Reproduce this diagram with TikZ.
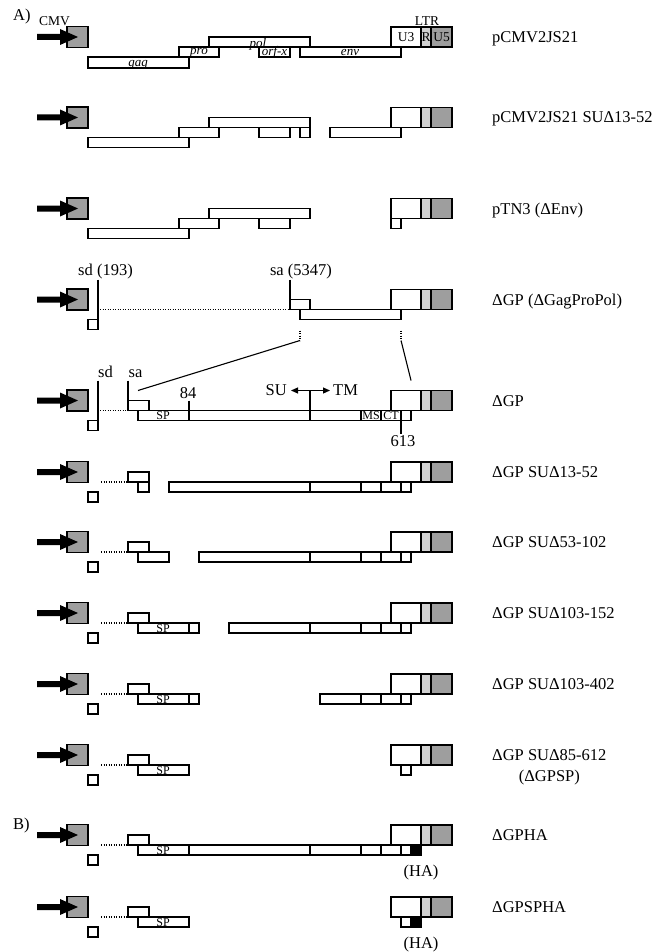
\documentclass[tikz,border=0pt]{standalone}
\usepackage{xcolor}
\usepackage{fontspec}
\setmainfont{Liberation Serif}
\usetikzlibrary{arrows.meta}

\definecolor{cmvgray}{gray}{0.62}
\definecolor{rgray}{gray}{0.82}

\tikzset{
  seg/.style={draw=black, fill=white, line width=1.1pt},
  cmvseg/.style={seg, fill=cmvgray},
  rseg/.style={seg, fill=rgray},
  haseg/.style={seg, fill=black},
  txt/.style={inner sep=0pt, font=\fontsize{16.5}{19}\selectfont},
  small/.style={inner sep=0pt, font=\fontsize{13.5}{16}\selectfont},
  gene/.style={inner sep=0pt, anchor=base, font=\fontsize{13}{15}\selectfont\itshape},
  tiny/.style={inner sep=0pt, font=\fontsize{12}{14}\selectfont},
  dots/.style={line width=1.3pt, dash pattern=on 1.3pt off 1.2pt},
  tick/.style={line width=1.1pt},
  tip/.style={{Triangle[length=7pt,width=6pt]}-{Triangle[length=7pt,width=6pt]}},
}

\begin{document}
\begin{tikzpicture}[x=1pt, y=-1pt]
    \useasboundingbox (0,0) rectangle (665,952);

    % CMV 启动子和 LTR (每一行都有)
    \foreach \yy in {37,117.5,208.5,299.5,400.5,472,542,613,684,755,835,907}{
        \draw[cmvseg] (67,\yy-10.5) rectangle (88,\yy+10.5);
        \fill (37,\yy-3) -- (60,\yy-3) -- (60,\yy-8) -- (78,\yy) -- (60,\yy+8) -- (60,\yy+3) -- (37,\yy+3) -- cycle;
        \draw[seg] (391,\yy-10) rectangle (421,\yy+10);
        \draw[rseg] (421,\yy-10) rectangle (431,\yy+10);
        \draw[cmvseg] (431,\yy-10) rectangle (452,\yy+10);
    }

    % 右侧名称
    \node[txt, anchor=base west] (n1) at (492,42.5) {pCMV2JS21};
    \node[txt, anchor=base west] (n2) at (492,123) {pCMV2JS21 SUΔ13-52};
    \node[txt, anchor=base west] (n3) at (492,214) {pTN3 (ΔEnv)};
    \node[txt, anchor=base west] (n4) at (492,305) {ΔGP (ΔGagProPol)};
    \node[txt, anchor=base west] (n5) at (492,406) {ΔGP};
    \node[txt, anchor=base west] (n6) at (492,477.5) {ΔGP SUΔ13-52};
    \node[txt, anchor=base west] (n7) at (492,547.5) {ΔGP SUΔ53-102};
    \node[txt, anchor=base west] (n8) at (492,618.5) {ΔGP SUΔ103-152};
    \node[txt, anchor=base west] (n9) at (492,689.5) {ΔGP SUΔ103-402};
    \node[txt, anchor=base west] (n10) at (492,760.5) {ΔGP SUΔ85-612};
    \node[txt, anchor=base] (n10b) at ([yshift=-21pt]n10.base) {(ΔGPSP)};
    \node[txt, anchor=base west] (n11) at (492,840.5) {ΔGPHA};
    \node[txt, anchor=base west] (n12) at (492,912.5) {ΔGPSPHA};

    \node[txt, anchor=base west] (partA) at (13,21) {A)};
    \node[txt, anchor=base west] (partB) at (13,829) {B)};

    % pCMV2JS21
    \begin{scope}[shift={(0,37)}]
        \draw[seg] (209,0) rectangle (310,10);
        \draw[seg] (179,10) rectangle (219,20);
        \draw[seg] (259,10) rectangle (290,20);
        \draw[seg] (300,10) rectangle (401,20);
        \draw[seg] (88,20) rectangle (189,31);
        \node[gene] (gag) at (138,29.5) {gag};
        \node[gene] (pro) at (199,18) {pro};
        \node[gene] (pol) at (258,10.5) {pol};
        \node[gene] (orfx) at (274.5,18.5) {orf-x};
        \node[gene] (env) at (350,18.5) {env};
        \node[small] (u3) at (406,0.5) {U3};
        \node[small] (r) at (426,0.5) {R};
        \node[small] (u5) at (441.5,0.5) {U5};
        \node[small, anchor=base] (cmv) at (54.5,-11) {CMV};
        \node[small, anchor=base] (ltr) at (427,-11) {LTR};
    \end{scope}

    % pCMV2JS21 SU 13-52
    \begin{scope}[shift={(0,117.5)}]
        \draw[seg] (209,0) rectangle (310,10);
        \draw[seg] (179,10) rectangle (219,20);
        \draw[seg] (259,10) rectangle (290,20);
        \draw[seg] (300,10) rectangle (310,20);
        \draw[seg] (330,10) rectangle (401,20);
        \draw[seg] (88,20) rectangle (189,30);
    \end{scope}

    % pTN3
    \begin{scope}[shift={(0,208.5)}]
        \draw[seg] (209,0) rectangle (310,10);
        \draw[seg] (179,10) rectangle (219,20);
        \draw[seg] (259,10) rectangle (290,20);
        \draw[seg] (88,20) rectangle (189,30);
        \draw[seg] (391,10) rectangle (401,20);
    \end{scope}

    % dGP (dGagProPol)
    \begin{scope}[shift={(0,299.5)}]
        \draw[seg] (88,20) rectangle (98,30);
        \draw[tick] (98,-20) -- (98,30);
        \draw[dots] (100,10) -- (289,10);
        \draw[seg] (290,0) rectangle (310,10);
        \draw[tick] (290,-20) -- (290,10);
        \draw[seg] (300,10) rectangle (401,20);
        \node[txt, anchor=base] (sd1) at (105.5,-24) {sd (193)};
        \node[txt, anchor=base] (sa1) at (301,-24) {sa (5347)};
        \coordinate (cutL) at (300,31);
        \coordinate (cutR) at (401,31);
        \draw[dots] (cutL) -- ++(0,10) coordinate (cutL2);
        \draw[dots] (cutR) -- ++(0,10) coordinate (cutR2);
    \end{scope}

    % dGP
    \begin{scope}[shift={(0,400.5)}]
        \draw[seg] (88,20) rectangle (98,30);
        \draw[tick] (98,-20) -- (98,30);
        \draw[dots] (100,10) -- (127,10);
        \draw[seg] (128,0) rectangle (149,10);
        \draw[tick] (128,-20) -- (128,10);
        \draw[seg] (138,10) rectangle (411,20);
        \draw[tick] (361,10) -- (361,20);
        \draw[tick] (381,10) -- (381,20);
        \draw[tick] (189,0) -- (189,20);
        \draw[tick] (310,-10) -- (310,20);
        \draw[tick] (401,10) -- (401,33);
        \draw[tick, tip] (291,-10) -- (330,-10);
        \coordinate (barL) at (138,-10);
        \coordinate (barR) at (411,-20);
        \node[txt, anchor=base] (sd2) at (105.5,-23.5) {sd};
        \node[txt, anchor=base] (sa2) at (135.5,-23.5) {sa};
        \node[txt, anchor=base] (p84) at (188,-2.5) {84};
        \node[txt, anchor=base east] (su) at (287,-5) {SU};
        \node[txt, anchor=base west] (tm) at (333,-5) {TM};
        \node[txt, anchor=base] (p613) at (403,46) {613};
        \node[tiny] (sp) at (163,15.5) {SP};
        \node[tiny] (ms) at (371,15.5) {MS};
        \node[tiny] (ct) at (391,15.5) {CT};
    \end{scope}

    % 放大的连线
    \draw[tick] (cutL2) -- (barL);
    \draw[tick] (cutR2) -- (barR);

    % dGP SU 13-52
    \begin{scope}[shift={(0,472)}]
        \draw[seg] (88,20) rectangle (98,30);
        \draw[dots] (101,10) -- (127,10);
        \draw[seg] (128,0) rectangle (149,10);
        \draw[seg] (138,10) rectangle (149,20);
        \draw[seg] (169,10) rectangle (411,20);
        \foreach \xx in {310,361,381,401} \draw[tick] (\xx,10) -- (\xx,20);
    \end{scope}

    % dGP SU 53-102
    \begin{scope}[shift={(0,542)}]
        \draw[seg] (88,20) rectangle (98,30);
        \draw[dots] (101,10) -- (127,10);
        \draw[seg] (128,0) rectangle (149,10);
        \draw[seg] (138,10) rectangle (169,20);
        \draw[seg] (199,10) rectangle (411,20);
        \foreach \xx in {310,361,381,401} \draw[tick] (\xx,10) -- (\xx,20);
    \end{scope}

    % dGP SU 103-152
    \begin{scope}[shift={(0,613)}]
        \draw[seg] (88,20) rectangle (98,30);
        \draw[dots] (101,10) -- (127,10);
        \draw[seg] (128,0) rectangle (149,10);
        \draw[seg] (138,10) rectangle (189,20);
        \draw[seg] (189,10) rectangle (199,20);
        \draw[seg] (229,10) rectangle (411,20);
        \foreach \xx in {310,361,381,401} \draw[tick] (\xx,10) -- (\xx,20);
        \node[tiny] (sp8) at (163,15.5) {SP};
    \end{scope}

    % dGP SU 103-402
    \begin{scope}[shift={(0,684)}]
        \draw[seg] (88,20) rectangle (98,30);
        \draw[dots] (101,10) -- (127,10);
        \draw[seg] (128,0) rectangle (149,10);
        \draw[seg] (138,10) rectangle (189,20);
        \draw[seg] (189,10) rectangle (199,20);
        \draw[seg] (320,10) rectangle (411,20);
        \foreach \xx in {361,381,401} \draw[tick] (\xx,10) -- (\xx,20);
        \node[tiny] (sp9) at (163,15.5) {SP};
    \end{scope}

    % dGP SU 85-612
    \begin{scope}[shift={(0,755)}]
        \draw[seg] (88,20) rectangle (98,30);
        \draw[dots] (101,10) -- (127,10);
        \draw[seg] (128,0) rectangle (149,10);
        \draw[seg] (138,10) rectangle (189,20);
        \draw[seg] (401,10) rectangle (411,20);
        \node[tiny] (sp10) at (163,15.5) {SP};
    \end{scope}

    % dGPHA
    \begin{scope}[shift={(0,835)}]
        \draw[seg] (88,20) rectangle (98,30);
        \draw[dots] (101,10) -- (127,10);
        \draw[seg] (128,0) rectangle (149,10);
        \draw[seg] (138,10) rectangle (411,20);
        \foreach \xx in {189,310,361,381,401} \draw[tick] (\xx,10) -- (\xx,20);
        \draw[haseg] (411,10) rectangle (421,20);
        \node[tiny] (sp11) at (163,15.5) {SP};
        \node[txt, anchor=base] (ha11) at (421,41.5) {(HA)};
    \end{scope}

    % dGPSPHA
    \begin{scope}[shift={(0,907)}]
        \draw[seg] (88,20) rectangle (98,30);
        \draw[dots] (101,10) -- (127,10);
        \draw[seg] (128,0) rectangle (149,10);
        \draw[seg] (138,10) rectangle (189,20);
        \draw[seg] (401,10) rectangle (411,20);
        \draw[haseg] (411,10) rectangle (421,20);
        \node[tiny] (sp12) at (163,15.5) {SP};
        \node[txt, anchor=base] (ha12) at (421,41) {(HA)};
    \end{scope}

\end{tikzpicture}
\end{document}
